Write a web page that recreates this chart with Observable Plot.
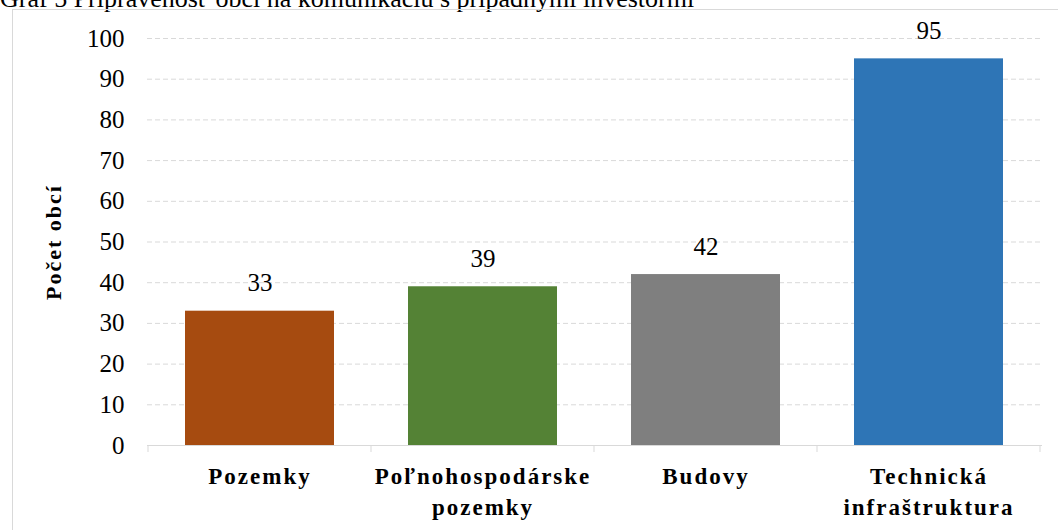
<!DOCTYPE html>
<html>
<head>
<meta charset="utf-8">
<script src="https://cdn.jsdelivr.net/npm/d3@7"></script>
<script src="https://cdn.jsdelivr.net/npm/@observablehq/plot@0.6"></script>
<style>
  html, body { margin: 0; padding: 0; background: #fff; overflow: hidden; }
  body { width: 1058px; height: 530px; position: relative; font-family: 'Liberation Serif', serif; }
  #title { position: absolute; left: 0; top: -16px; font-size: 26px; line-height: 30px; white-space: nowrap; color: #000; }
  #frame { position: absolute; left: 12px; top: 9px; width: 1100px; height: 600px; border: 1px solid #d9d9d9; box-sizing: border-box; }
  #chart { position: absolute; left: 0; top: 0; }
  .xlab text { letter-spacing: 2px; }
  .ylab text { letter-spacing: 2px; }
</style>
</head>
<body>
<div id="title">Graf 5 Pripravenosť obcí na komunikáciu s prípadnými investormi</div>
<div id="frame"></div>
<div id="chart"></div>
<script>
const categories = ["Pozemky", "Poľnohospodárske pozemky", "Budovy", "Technická infraštruktura"];
const tickLabels = ["Pozemky", "Poľnohospodárske\npozemky", "Budovy", "Technická\ninfraštruktura"];
const values = [33, 39, 42, 95];
const colors = ["#A64B10", "#548235", "#7F7F7F", "#2E75B6"];
const yTicks = [0, 10, 20, 30, 40, 50, 60, 70, 80, 90, 100];
const yLabel = "Počet obcí";

const FONT = "'Liberation Serif', serif";
const data = categories.map((c, i) => ({cat: c, value: values[i], color: colors[i]}));
const labelOf = new Map(categories.map((c, i) => [c, tickLabels[i]]));

const separators = (index, scales, values, dims) => {
  const x = scales.x;
  const step = x.step();
  const gap = (step - x.bandwidth()) / 2;
  const y0 = scales.y(0);
  const g = d3.create("svg:g");
  const n = categories.length;
  for (let i = 0; i <= n; i++) {
    const xi = i < n ? x(categories[i]) - gap : x(categories[n - 1]) + x.bandwidth() + gap;
    g.append("line").attr("x1", xi).attr("x2", xi).attr("y1", y0).attr("y2", y0 + 7)
      .attr("stroke", "#d9d9d9").attr("stroke-width", 1);
  }
  return g.node();
};

const chart = Plot.plot({
  width: 1058,
  height: 530,
  marginLeft: 147,
  marginRight: 16,
  marginTop: 38,
  marginBottom: 85,
  style: "font-family: 'Liberation Serif', serif; background: transparent; overflow: visible;",
  x: {domain: categories, paddingInner: 0.33, paddingOuter: 0.165, align: 0.5},
  y: {domain: [0, 100]},
  marks: [
    Plot.gridY(yTicks, {stroke: "#d9d9d9", strokeOpacity: 1, strokeDasharray: "5,3"}),
    Plot.barY(data, {x: "cat", y: "value", fill: "color"}),
    Plot.ruleY([0], {stroke: "#d9d9d9", strokeWidth: 1}),
    separators,
    Plot.text(data, {x: "cat", y: "value", text: d => String(d.value), dy: -28, fontSize: 25, fontFamily: FONT, fill: "#000"}),
    Plot.axisY({ticks: yTicks, tickSize: 0, tickPadding: 23, fontSize: 25, fontFamily: FONT, label: null, fill: "#000"}),
    Plot.axisX({tickSize: 0, tickPadding: 16, fontSize: 23, fontWeight: "bold", fontFamily: FONT, label: null, lineHeight: 1.35,
      tickFormat: d => labelOf.get(d), fill: "#000", className: "xlab"}),
    Plot.text([yLabel], {frameAnchor: "left", dx: -94, rotate: -90, textAnchor: "middle", fontSize: 22, fontWeight: "bold", fontFamily: FONT, fill: "#000", className: "ylab"})
  ]
});
document.getElementById("chart").appendChild(chart);
</script>
</body>
</html>
